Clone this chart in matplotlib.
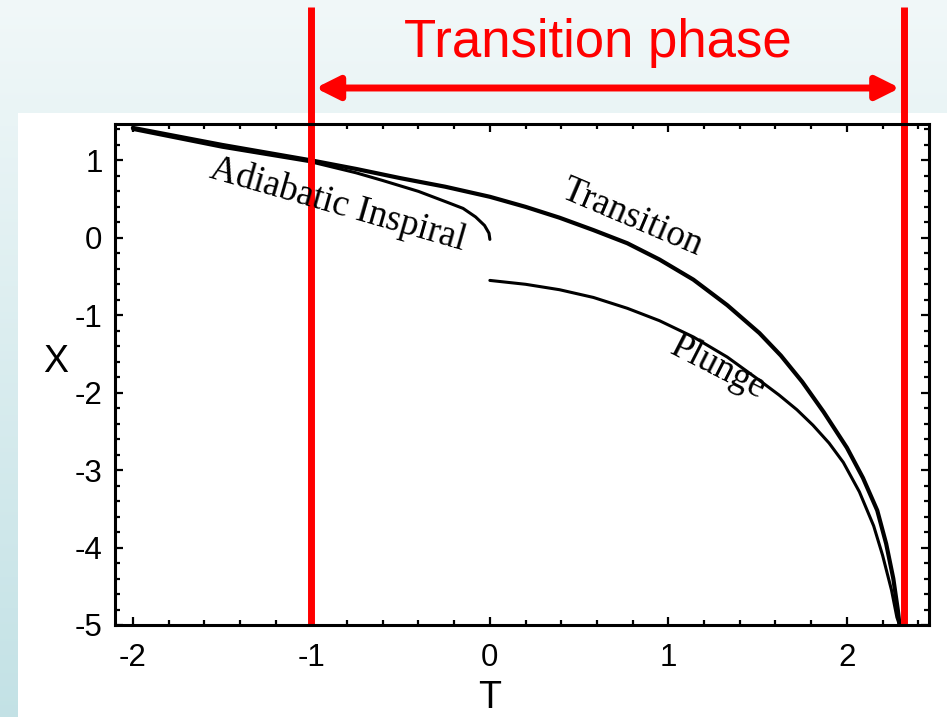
import numpy as np
import matplotlib
matplotlib.use("Agg")
import matplotlib.pyplot as plt
from matplotlib.patches import Rectangle
from matplotlib.ticker import MultipleLocator
from matplotlib.transforms import blended_transform_factory

plt.rcParams['axes.unicode_minus'] = False

# curves, (T, X)
transition_t = [-2.00, -1.75, -1.50, -1.25, -1.00, -0.75, -0.50, -0.25, 0.00, 0.20, 0.39,
                0.58, 0.77, 0.95, 1.14, 1.33, 1.51, 1.63, 1.75, 1.87, 2.00, 2.09, 2.17,
                2.22, 2.26, 2.285, 2.295]
transition_x = [1.42, 1.31, 1.20, 1.10, 1.00, 0.89, 0.77, 0.66, 0.53, 0.40, 0.26,
                0.10, -0.07, -0.28, -0.54, -0.87, -1.23, -1.52, -1.86, -2.25, -2.71, -3.10, -3.52,
                -3.95, -4.40, -4.80, -5.00]

inspiral_t = [-2.00, -1.50, -1.00, -0.75, -0.60, -0.40, -0.24, -0.15, -0.08, -0.03, -0.005, 0.00]
inspiral_x = [1.40, 1.17, 0.98, 0.84, 0.74, 0.60, 0.46, 0.38, 0.27, 0.16, 0.06, -0.02]

plunge_t = [0.00, 0.20, 0.39, 0.58, 0.77, 0.95, 1.14, 1.33, 1.51, 1.62, 1.72, 1.81,
            1.90, 1.98, 2.07, 2.15, 2.20, 2.25, 2.28, 2.295]
plunge_x = [-0.55, -0.60, -0.67, -0.77, -0.91, -1.07, -1.28, -1.54, -1.84, -2.03, -2.22, -2.42,
            -2.65, -2.90, -3.28, -3.72, -4.10, -4.55, -4.90, -5.00]

phase_start = -1.0
phase_end = 2.32

W, H = 947, 717
fig = plt.figure(figsize=(W / 100, H / 100), dpi=100)

# slide background
bg = fig.add_axes([0, 0, 1, 1], zorder=-10)
bg.axis('off')
frac = np.linspace(0, 1, 256)[:, None, None]
top_col = np.array([0.945, 0.972, 0.975])
bot_col = np.array([0.765, 0.885, 0.9])
bg.imshow(top_col + (bot_col - top_col) * frac * np.ones((1, 2, 1)),
          aspect='auto', extent=[0, 1, 0, 1])
bg.add_patch(Rectangle((18 / W, 0), 1, (H - 113) / H, transform=bg.transAxes,
                       facecolor='white', edgecolor='none'))
bg.set_xlim(0, 1)
bg.set_ylim(0, 1)

ax = fig.add_axes([115 / W, (H - 625) / H, (929 - 115) / W, (625 - 124) / H])

ax.plot(transition_t, transition_x, color='black', lw=3.0, solid_capstyle='round',
        solid_joinstyle='round')
ax.plot(inspiral_t, inspiral_x, color='black', lw=2.2, solid_capstyle='round',
        solid_joinstyle='round')
ax.plot(plunge_t, plunge_x, color='black', lw=2.2, solid_capstyle='round',
        solid_joinstyle='round')

serif = 'Liberation Serif'
ax.text(-0.854, 0.434, 'Adiabatic Inspiral', family=serif, fontsize=26.5,
        rotation=-16, ha='center', va='center')
ax.text(0.796, 0.26, 'Transition', family=serif, fontsize=26.5,
        rotation=-23, ha='center', va='center')
ax.text(1.28, -1.68, 'Plunge', family=serif, fontsize=26.5,
        rotation=-27, ha='center', va='center')

ax.set_xlim(-2.10, 2.46)
ax.set_ylim(-5.0, 1.47)
ax.xaxis.set_major_locator(MultipleLocator(1))
ax.xaxis.set_minor_locator(MultipleLocator(0.2))
ax.yaxis.set_major_locator(MultipleLocator(1))
ax.yaxis.set_minor_locator(MultipleLocator(0.2))
ax.tick_params(which='both', direction='in', top=True, right=True, width=1.6)
ax.tick_params(which='major', length=5.8)
ax.tick_params(which='minor', length=3.6)
ax.tick_params(axis='x', pad=13)
ax.tick_params(axis='y', pad=9)
for lab in ax.get_xticklabels() + ax.get_yticklabels():
    lab.set_family('Liberation Sans')
    lab.set_fontsize(22.5)
for sp in ax.spines.values():
    sp.set_linewidth(2.2)

fig.text(56 / W, (H - 362) / H, 'X', family='Liberation Sans', fontsize=27,
         ha='center', va='center')
fig.text(490 / W, (H - 698) / H, 'T', family='Liberation Sans', fontsize=27,
         ha='center', va='center')

# red markers of the transition phase
trans = blended_transform_factory(ax.transData, fig.transFigure)
for t in (phase_start, phase_end):
    ax.plot([t, t], [(H - 625) / H, (H - 7) / H], transform=trans, color='red',
            lw=5, clip_on=False, solid_capstyle='butt')
arrow_y = (H - 88) / H
ax.annotate('', xy=(phase_start, arrow_y), xycoords=trans,
            xytext=(phase_end, arrow_y), textcoords=trans, annotation_clip=False,
            arrowprops=dict(arrowstyle='<|-|>,head_length=14,head_width=7',
                            mutation_scale=1, color='red', lw=5,
                            shrinkA=3, shrinkB=3))
fig.text(597.5 / W, (H - 57) / H, 'Transition phase', color='red', fontsize=38,
         family='Liberation Sans', ha='center', va='baseline')

fig.savefig('out.png', dpi=100)
